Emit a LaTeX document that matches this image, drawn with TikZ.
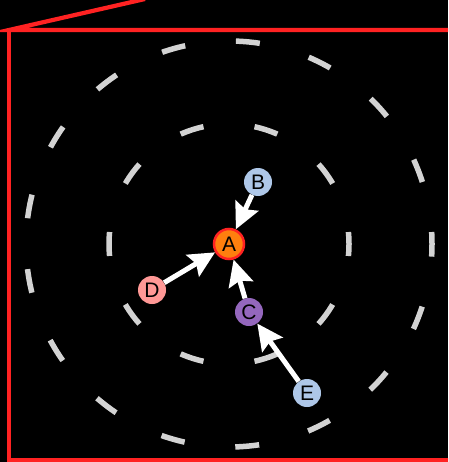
\documentclass[tikz,border=0pt]{standalone}
\usepackage{fontspec}
\setmainfont{Liberation Sans}
\usetikzlibrary{arrows.meta}
\definecolor{frame}{HTML}{FF2222}
\definecolor{ringc}{HTML}{D3D3D3}
\definecolor{lblue}{HTML}{AEC7E8}
\definecolor{purp}{HTML}{9467BD}
\definecolor{pinkc}{HTML}{FF9896}
\definecolor{orng}{HTML}{FF7F0E}
\tikzset{
  vert/.style={circle, draw=none, minimum size=28pt, inner sep=0pt, font=\fontsize{21}{21}\selectfont, text=black},
  ring/.style={draw=ringc, line width=5.5pt, dash phase=12pt},
  edge/.style={draw=white, line width=5pt, -{Stealth[length=26pt,width=25pt,inset=4pt]}, shorten >=0pt},
  redline/.style={draw=frame, line width=4.2pt}
}
\begin{document}
\begin{tikzpicture}[x=1pt,y=-1pt]
\fill[black] (0,0) rectangle (448,462);
\useasboundingbox (0,0) rectangle (448,462);
\begin{scope}
\clip (0,0) rectangle (448,462);
\coordinate (fa) at (9,30);
\coordinate (fb) at (145,-1);
\coordinate (fc) at (460,30);
\coordinate (fd) at (460,460);
\coordinate (fe) at (9,460);
\draw[redline] (fb) -- (fa) -- (fc);
\draw[redline] (fa) -- (fe) -- (fd);
\coordinate (ctr) at (229,244);
\draw[ring, dash pattern=on 24pt off 51.4pt] (ctr) ++(120,0) arc[start angle=0, end angle=-360, radius=120];
\draw[ring, dash pattern=on 24pt off 51pt] (ctr) ++(203,0) arc[start angle=0, end angle=-360, radius=203];
\end{scope}
\node[vert, fill=orng, draw=frame, line width=2.5pt, minimum size=30pt] (A) at (229,244) {A};
\node[vert, fill=lblue] (B) at (258,182) {B};
\node[vert, fill=purp] (C) at (249,312) {C};
\node[vert, fill=pinkc] (D) at (152,290) {D};
\node[vert, fill=lblue] (E) at (307,393) {E};
\draw[edge] (B) -- (A);
\draw[edge] (C) -- (A);
\draw[edge] (D) -- (A);
\draw[edge] (E) -- (C);
\end{tikzpicture}
\end{document}
